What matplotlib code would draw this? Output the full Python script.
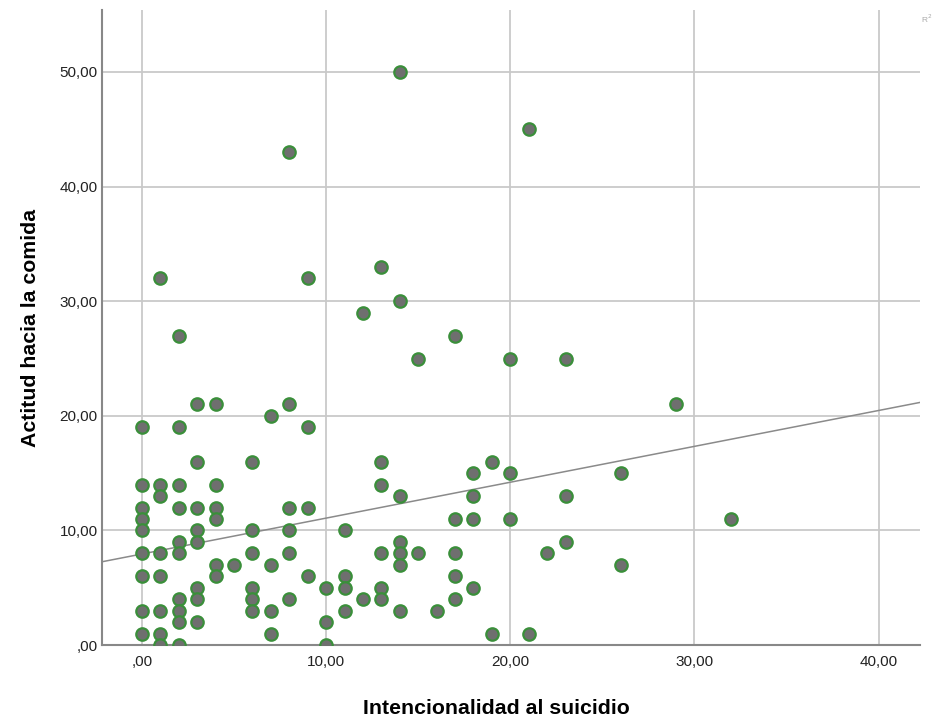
import numpy as np
import matplotlib
matplotlib.use('Agg')
import matplotlib.pyplot as plt
from matplotlib.ticker import FuncFormatter

# puntos (intencionalidad, actitud)
intencionalidad = [14, 21, 8, 1, 9, 13, 14, 12, 2, 17, 15, 20, 23, 29,
                   3, 4, 8, 7, 0, 2, 9,
                   3, 6, 13, 0, 1, 2, 4, 13, 1, 14,
                   0, 2, 3, 4, 8, 9, 0, 4,
                   0, 3, 6, 8, 11, 2, 3, 14,
                   0, 1, 2, 6, 8, 13, 14, 15, 17,
                   4, 5, 7, 14, 0, 1, 4, 9, 11, 17,
                   3, 6, 10, 11, 13, 18, 2, 3, 6, 8, 12, 13, 17,
                   0, 1, 2, 6, 7, 11, 14, 16, 2, 3, 10,
                   0, 1, 7, 19, 21, 1, 2, 10,
                   18, 19, 20, 18, 17, 18, 20, 26, 23, 23, 22, 26, 32]
actitud = [50, 45, 43, 32, 32, 33, 30, 29, 27, 27, 25, 25, 25, 21,
           21, 21, 21, 20, 19, 19, 19,
           16, 16, 16, 14, 14, 14, 14, 14, 13, 13,
           12, 12, 12, 12, 12, 12, 11, 11,
           10, 10, 10, 10, 10, 9, 9, 9,
           8, 8, 8, 8, 8, 8, 8, 8, 8,
           7, 7, 7, 7, 6, 6, 6, 6, 6, 6,
           5, 5, 5, 5, 5, 5, 4, 4, 4, 4, 4, 4, 4,
           3, 3, 3, 3, 3, 3, 3, 3, 2, 2, 2,
           1, 1, 1, 1, 1, 0, 0, 0,
           15, 16, 15, 13, 11, 11, 11, 15, 13, 9, 8, 7, 11]

# recta de ajuste lineal
intercepto = 7.95
pendiente = 0.313

fig = plt.figure(figsize=(9.44, 7.2), dpi=100)
ax = fig.add_axes([0.108, 0.104, 0.8665, 0.882])

ax.set_xlim(-2.17, 42.24)
ax.set_ylim(0, 55.4)
ax.set_xticks([0, 10, 20, 30, 40])
ax.set_yticks([0, 10, 20, 30, 40, 50])

def fmt_spss(v, pos):
    s = '%.2f' % v
    s = s.replace('.', ',')
    if s.startswith('0'):
        s = s[1:]
    return s

ax.xaxis.set_major_formatter(FuncFormatter(fmt_spss))
ax.yaxis.set_major_formatter(FuncFormatter(fmt_spss))

ax.grid(True, color='#c9c9c9', linewidth=1.3)
ax.set_axisbelow(True)
ax.tick_params(axis='x', length=0, labelsize=11, labelcolor='#222222', pad=7)
ax.tick_params(axis='y', length=0, labelsize=11, labelcolor='#222222', pad=3)
for lab in ax.get_xticklabels() + ax.get_yticklabels():
    lab.set_family('Liberation Sans')

ax.spines['top'].set_visible(False)
ax.spines['right'].set_visible(False)
ax.spines['left'].set_color('#888888')
ax.spines['left'].set_linewidth(1.5)
ax.spines['bottom'].set_color('#888888')
ax.spines['bottom'].set_linewidth(1.5)

xs = np.array(ax.get_xlim())
ax.plot(xs, intercepto + pendiente * xs, color='#8a8a8a', linewidth=1.1, zorder=2)

ax.scatter(intencionalidad, actitud, s=80, facecolor='#6f6f6f',
           edgecolor='#3a8f3a', linewidth=1.6, zorder=3)

ax.set_xlabel('Intencionalidad al suicidio', fontsize=15.3, fontweight='bold',
              family='Liberation Sans')
ax.xaxis.set_label_coords(0.482, -0.085)
ax.set_ylabel('Actitud hacia la comida', fontsize=15.3, fontweight='bold',
              family='Liberation Sans', labelpad=14)

fig.text(0.988, 0.968, 'R$^2$', fontsize=6, color='#aaaaaa', ha='right',
         family='Liberation Sans')

plt.savefig('out.png', dpi=100)
plt.close()
